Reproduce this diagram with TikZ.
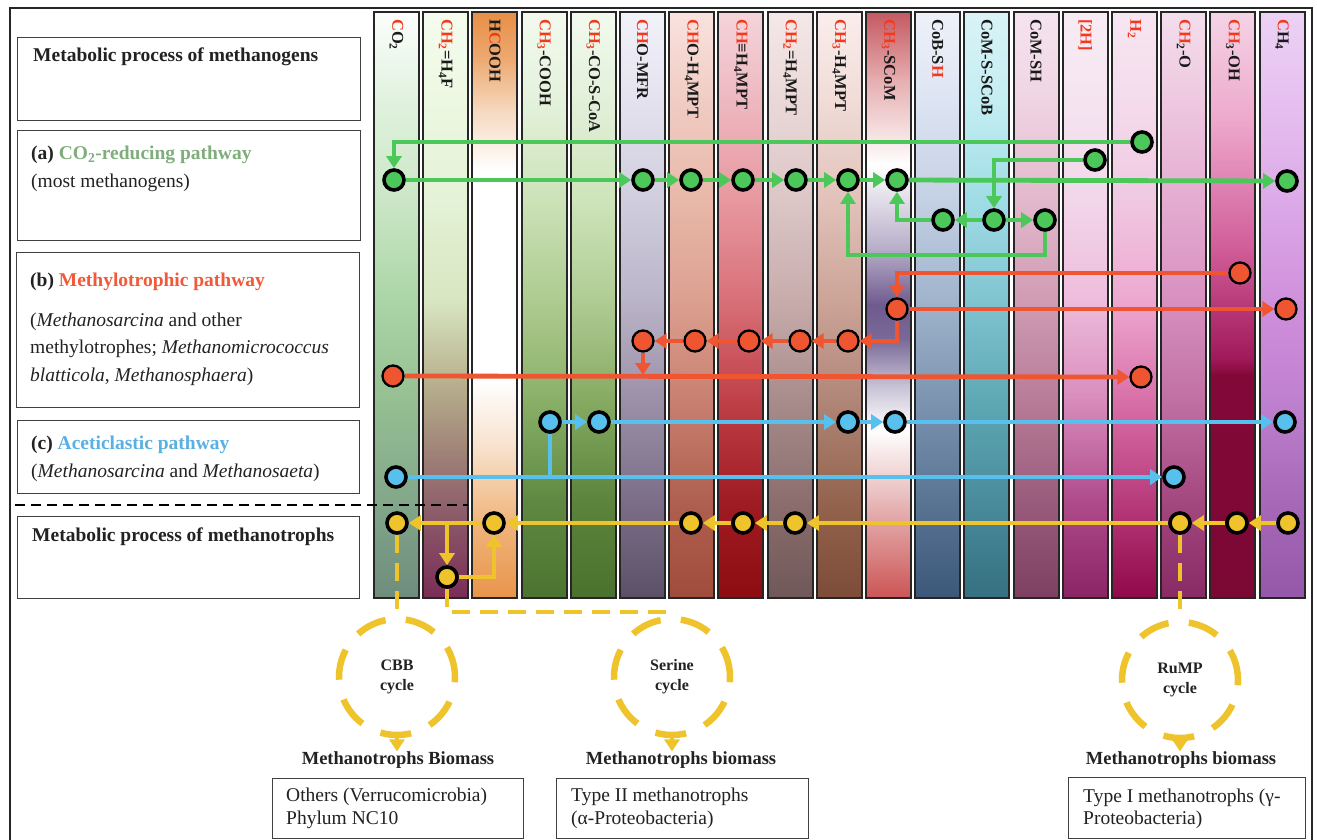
\documentclass[tikz,border=0pt]{standalone}
\usepackage{fontspec}
\setmainfont{Liberation Serif}
\usetikzlibrary{arrows.meta}
\pgfdeclarelayer{bg}\pgfdeclarelayer{mid}\pgfsetlayers{bg,mid,main}
\definecolor{gC}{HTML}{4CC85A}
\definecolor{rC}{HTML}{EE5530}
\definecolor{bC}{HTML}{58C0EC}
\definecolor{yC}{HTML}{EEC32C}
\definecolor{hred}{HTML}{F2391E}
\definecolor{tgreen}{HTML}{7FAE7C}
\definecolor{tred}{HTML}{F05A38}
\definecolor{tblue}{HTML}{5AB0E2}
\definecolor{txt}{HTML}{222222}
\newcommand\colgrad[3]{%
  \foreach \yy/\cc [remember=\yy as \py (initially 12), remember=\cc as \pc (initially #2)] in {#3}{%
    \edef\tmpdef{\noexpand\definecolor{gca}{HTML}{\pc}\noexpand\definecolor{gcb}{HTML}{\cc}}\tmpdef
    \shade[top color=gca,bottom color=gcb] (#1,\py-0.6) rectangle (#1+45,\yy+0.6);
  }%
  \draw[stripframe] (#1,12) rectangle (#1+45,598);
}
\begin{document}
\begin{tikzpicture}[x=1pt,y=-1pt,
  stripframe/.style={draw=black!85,line width=2pt},
  pt/.style={circle,draw=black,line width=3.6pt,minimum size=20pt,inner sep=0pt},
  gn/.style={pt,fill=gC},
  rn/.style={pt,fill=rC,line width=2.3pt,minimum size=21pt},
  bn/.style={pt,fill=bC},
  yn/.style={pt,fill=yC,minimum size=20pt},
  flow/.style={line width=4.8pt,-{Triangle[length=12pt,width=15pt]}},
  gf/.style={flow,draw=gC},
  rf/.style={flow,draw=rC},
  bf/.style={flow,draw=bC},
  yf/.style={flow,draw=yC},
  ydash/.style={draw=yC,line width=4.8pt,dash pattern=on 18pt off 10pt},
  cyc/.style={circle,draw=yC,line width=6.5pt,dash pattern=on 31pt off 20.3pt,minimum size=116pt,inner sep=0pt,align=center,font=\fontsize{16}{20}\selectfont\bfseries,text=txt},
  bm/.style={inner sep=0pt,font=\fontsize{18.5}{22}\selectfont\bfseries,text=txt},
  hdr/.style={rotate=-90,anchor=west,inner sep=0pt,font=\fontsize{16.5}{18}\selectfont\bfseries,text=black!90},
  lbox/.style={draw=black!75,line width=1.2pt,anchor=north west,inner sep=0pt,fill=white},
  ltxt/.style={anchor=west,inner sep=0pt,text=txt,font=\fontsize{19.5}{23}\selectfont}
]
\useasboundingbox (0,0) rectangle (1317,839);
\begin{pgfonlayer}{bg}
\fill[white] (0,0) rectangle (1317,839);
\colgrad{374}{FCFEFC}{100/E0F2DE,200/CBE6C6,300/ABD5A6,400/96BF92,500/82A78A,598/6E8C7C}
\colgrad{423.2}{F4FCEE}{100/ECF8E2,200/E4F2D6,300/D8E6C2,380/B9B28E,450/A08478,520/8A5868,598/7A2C56}
\colgrad{472.4}{E88E46}{60/EDAA72,110/F6D8BE,170/FFFFFF,380/FFFFFF,450/F7E0CA,520/F0B67E,598/E8944A}
\colgrad{521.6}{F2FAEE}{100/E4F2DC,200/CCE2B8,300/AECB90,400/8AB068,500/5F8942,598/4C7430}
\colgrad{570.8}{F2FAEE}{100/E2F0DA,200/CEE4BA,300/B0CC94,400/86AA62,500/5C843C,598/4A722E}
\colgrad{620}{F2F2FA}{100/E4E2EE,200/D0CEDE,300/BAB4C8,400/9C90A8,500/7C6E88,598/5C5068}
\colgrad{669.2}{FAE2DE}{100/F0CCC4,200/E8B8A8,300/DCA090,400/C88070,500/B06050,598/A04C3C}
\colgrad{718.4}{F4D4DA}{100/EEB8C0,200/E898A0,300/D87078,400/C04048,500/A01C24,598/8C0C10}
\colgrad{767.6}{F4E8E8}{100/EAD8D8,200/DCC6C6,300/C8ACAC,400/A88C8C,500/8C6E6E,598/705858}
\colgrad{816.8}{FAEEEC}{100/F0DCD8,200/E2C2BA,300/CCA498,400/B08678,500/94644E,598/7C4C38}
\colgrad{866}{C45860}{80/E6AEB0,165/FFFFFF,250/B6ACC8,305/6E5A8E,340/7A6A98,385/C6C0D4,430/FFFFFF,500/E8BABA,598/CC5454}
\colgrad{915.2}{EEF1F8}{100/DDE4F2,200/C4D0E4,300/A0B4CC,400/7C94B0,500/5A7494,598/3C5878}
\colgrad{964.4}{DAF3F6}{100/C4EEF2,200/A0DCE6,300/80C4D0,400/5EA8B4,500/4A8C9C,598/347080}
\colgrad{1013.6}{F5E4EF}{100/F0D4E4,200/E2B8CC,300/D09CB4,400/B87C98,500/9A5C7C,598/7E4060}
\colgrad{1062.8}{F8ECF4}{100/F5E4F0,200/F2D6EA,300/EEBCDC,400/D88CBC,500/B04C8C,598/8A2464}
\colgrad{1112}{F7E6F1}{100/F4DCEC,200/F0C8E2,300/EEA8D0,400/D870A8,500/B83C7C,598/900848}
\colgrad{1161.2}{F3DEEC}{100/EEC8E0,200/E4ACD0,300/D890C0,400/C070A4,500/A44880,598/882A64}
\colgrad{1210.4}{F4D4E6}{120/EEA8CC,250/D05C98,360/A01858,375/820838,598/7C0834}
\colgrad{1259.6}{ECD2F4}{100/E6C0F0,200/DCAAE8,300/D090DC,400/C080D0,500/A868B8,598/9458A8}
\draw[line width=2pt,black!85] (10,8) rectangle (1312,870);
\end{pgfonlayer}

% column headers
\node[hdr] (h0) at (396.5,19) {\textcolor{hred}{C}O\textsubscript{2}};
\node[hdr] (h1) at (445.7,19) {\textcolor{hred}{CH\textsubscript{2}}=H\textsubscript{4}F};
\node[hdr] (h2) at (494.9,19) {H\textcolor{hred}{C}OOH};
\node[hdr] (h3) at (544.1,19) {\textcolor{hred}{CH\textsubscript{3}}-COOH};
\node[hdr] (h4) at (593.3,19) {\textcolor{hred}{CH\textsubscript{3}}-CO-S-CoA};
\node[hdr] (h5) at (642.5,19) {\textcolor{hred}{CH}O-MFR};
\node[hdr] (h6) at (691.7,19) {\textcolor{hred}{CH}O-H\textsubscript{4}MPT};
\node[hdr] (h7) at (740.9,19) {\textcolor{hred}{CH}≡H\textsubscript{4}MPT};
\node[hdr] (h8) at (790.1,19) {\textcolor{hred}{CH\textsubscript{2}}=H\textsubscript{4}MPT};
\node[hdr] (h9) at (839.3,19) {\textcolor{hred}{CH\textsubscript{3}}-H\textsubscript{4}MPT};
\node[hdr] (h10) at (888.5,19) {\textcolor{hred}{CH\textsubscript{3}}-SCoM};
\node[hdr] (h11) at (937.7,19) {CoB-S\textcolor{hred}{H}};
\node[hdr] (h12) at (986.9,19) {CoM-S-SCoB};
\node[hdr] (h13) at (1036.1,19) {CoM-SH};
\node[hdr] (h14) at (1085.3,19) {\textcolor{hred}{[2H]}};
\node[hdr] (h15) at (1134.5,19) {\textcolor{hred}{H\textsubscript{2}}};
\node[hdr] (h16) at (1183.7,19) {\textcolor{hred}{CH}\textsubscript{2}-O};
\node[hdr] (h17) at (1232.9,19) {\textcolor{hred}{CH}\textsubscript{3}-OH};
\node[hdr] (h18) at (1282.1,19) {\textcolor{hred}{C}H\textsubscript{4}};

% left boxes
\node[lbox,minimum width=343pt,minimum height=83pt] (bx0) at (17,37) {};
\node[lbox,minimum width=343pt,minimum height=110pt] (bxa) at (17,130) {};
\node[lbox,minimum width=343pt,minimum height=155pt] (bxb) at (16,252) {};
\node[lbox,minimum width=342pt,minimum height=73pt] (bxc) at (17,420) {};
\node[lbox,minimum width=342pt,minimum height=82pt] (bxd) at (17,516) {};
\node[ltxt] (t0) at (33,57) {\bfseries Metabolic process of methanogens};
\node[ltxt] (ta1) at (31,155) {\textbf{(a) }\textcolor{tgreen}{\bfseries CO\textsubscript{2}-reducing pathway}};
\node[ltxt] (ta2) at (31,183) {(most methanogens)};
\node[ltxt] (tb1) at (30,282) {\textbf{(b) }\textcolor{tred}{\bfseries Methylotrophic pathway}};
\node[ltxt] (tb2) at (30,322) {(\textit{Methanosarcina} and other};
\node[ltxt] (tb3) at (30,349) {methylotrophes; \textit{Methanomicrococcus}};
\node[ltxt] (tb4) at (30,377) {\textit{blatticola}, \textit{Methanosphaera})};
\node[ltxt] (tc1) at (31,445) {\textbf{(c) }\textcolor{tblue}{\bfseries Aceticlastic pathway}};
\node[ltxt] (tc2) at (31,473) {(\textit{Methanosarcina} and \textit{Methanosaeta})};
\node[ltxt] (td1) at (32,537) {\bfseries Metabolic process of methanotrophs};
\draw[black,line width=2pt,dash pattern=on 10pt off 6pt] (15,505) -- (468,505);

% green nodes
\node[gn] (h2g) at (1142,142) {};
\node[gn] (h2hg) at (1095,160) {};
\node[gn] (co2g) at (394,180) {};
\node[gn] (mfrg) at (643,180) {};
\node[gn] (h4mptg) at (691,180) {};
\node[gn] (chg) at (743,180) {};
\node[gn] (ch2g) at (796,180) {};
\node[gn] (ch3g) at (848,180) {};
\node[gn] (scomg) at (897,180) {};
\node[gn] (ch4g) at (1287,181) {};
\node[gn] (cobg) at (943,220) {};
\node[gn] (cmsg) at (994,220) {};
\node[gn] (cmshg) at (1045,220) {};
\coordinate (gk) at (848,255);
% red nodes
\node[rn] (ch3ohr) at (1240,273) {};
\node[rn] (scomr) at (897,309) {};
\node[rn] (ch4r) at (1286,309) {};
\node[rn] (ch3r) at (848,341) {};
\node[rn] (ch2r) at (800,341) {};
\node[rn] (chr) at (749,341) {};
\node[rn] (h4mptr) at (695,341) {};
\node[rn] (mfrr) at (643,341) {};
\node[rn] (co2r) at (393,376) {};
\node[rn] (h2r) at (1141,377) {};
\coordinate (rk) at (643,375);
% blue nodes
\node[bn] (acb) at (550,422) {};
\node[bn] (accoab) at (599,422) {};
\node[bn] (ch3b) at (848,422) {};
\node[bn] (scomb) at (895,422) {};
\node[bn] (ch4b) at (1285,422) {};
\node[bn] (co2b) at (396,477) {};
\node[bn] (ch2ob) at (1174,477) {};
\coordinate (bk) at (550,477);
% yellow nodes
\node[yn] (ch4y) at (1288,523) {};
\node[yn] (ch3ohy) at (1237,523) {};
\node[yn] (ch2oy) at (1180,523) {};
\node[yn] (ch2y) at (795,523) {};
\node[yn] (chy) at (743,523) {};
\node[yn] (h4mpty) at (691,523) {};
\node[yn] (hcoohy) at (494,523) {};
\node[yn] (co2y) at (397,523) {};
\node[yn] (h4fy) at (447,577) {};
\coordinate (yk) at (447,523);
\coordinate (yk2) at (672,612);

% cycles and biomass
\node[cyc] (cbb) at (397,677) {CBB\\cycle};
\node[cyc] (ser) at (672,677) {Serine\\cycle};
\node[cyc] (rump) at (1180,680) {RuMP\\cycle};
\node[bm] (bm1) at (398,760) {Methanotrophs Biomass};
\node[bm] (bm2) at (681,760) {Methanotrophs biomass};
\node[bm] (bm3) at (1181,760) {Methanotrophs biomass};
\node[lbox,minimum width=251pt,minimum height=60pt] (bx1) at (272,778) {};
\node[lbox,minimum width=252pt,minimum height=60pt] (bx2) at (556,778) {};
\node[lbox,minimum width=237pt,minimum height=61pt] (bx3) at (1068,777) {};
\node[ltxt] (o1) at (286,797) {Others (Verrucomicrobia)};
\node[ltxt] (o2) at (286,820) {Phylum NC10};
\node[ltxt] (o3) at (571,797) {Type II methanotrophs};
\node[ltxt] (o4) at (571,820) {(α-Proteobacteria)};
\node[ltxt] (o5) at (1083,798) {Type I methanotrophs (γ-};
\node[ltxt] (o6) at (1083,820) {Proteobacteria)};

\begin{pgfonlayer}{mid}
% green
\draw[gf] (h2g) -| (co2g);
\draw[gf] (h2hg) -| (cmsg);
\draw[gf] (co2g) -- (mfrg);
\draw[gf] (mfrg) -- (h4mptg);
\draw[gf] (h4mptg) -- (chg);
\draw[gf] (chg) -- (ch2g);
\draw[gf] (ch2g) -- (ch3g);
\draw[gf] (ch3g) -- (scomg);
\draw[gf] (scomg) -- (ch4g);
\draw[gf] (cmsg) -- (cobg);
\draw[gf] (cmsg) -- (cmshg);
\draw[gf] (cobg) -| (scomg);
\draw[gf] (cmshg) |- (gk) -- (ch3g);
% red
\draw[rf] (ch3ohr) -| (scomr);
\draw[rf] (scomr) -- (ch4r);
\draw[rf] (scomr) |- (ch3r);
\draw[rf] (ch3r) -- (ch2r);
\draw[rf] (ch2r) -- (chr);
\draw[rf] (chr) -- (h4mptr);
\draw[rf] (h4mptr) -- (mfrr);
\draw[rf] (mfrr) -- (rk);
\draw[rf] (co2r) -- (h2r);
% blue
\draw[bf] (acb) -- (accoab);
\draw[bf] (accoab) -- (ch3b);
\draw[bf] (ch3b) -- (scomb);
\draw[bf] (scomb) -- (ch4b);
\draw[bf] (co2b) -- (ch2ob);
\draw[draw=bC,line width=4.6pt] (acb) -- (bk);
% yellow
\draw[yf] (ch4y) -- (ch3ohy);
\draw[yf] (ch3ohy) -- (ch2oy);
\draw[yf] (ch2oy) -- (ch2y);
\draw[yf] (ch2y) -- (chy);
\draw[yf] (chy) -- (h4mpty);
\draw[yf] (h4mpty) -- (hcoohy);
\draw[yf] (hcoohy) -- (co2y);
\draw[yf] (yk) -- (h4fy);
\draw[yf] (h4fy) -| (hcoohy);
\draw[ydash] (co2y) -- (co2y |- cbb.north);
\draw[ydash] (h4fy) |- (yk2) -- (ser);
\draw[ydash] (ch2oy) -- (ch2oy |- rump.north);
\draw[yf,line width=4.5pt] (cbb.south) -- (cbb.south |- bm1.north);
\draw[yf,line width=4.5pt] (ser.south) -- (ser.south |- bm2.north);
\draw[yf,line width=4.5pt] (rump.south) -- (rump.south |- bm3.north);
\end{pgfonlayer}
\end{tikzpicture}
\end{document}
